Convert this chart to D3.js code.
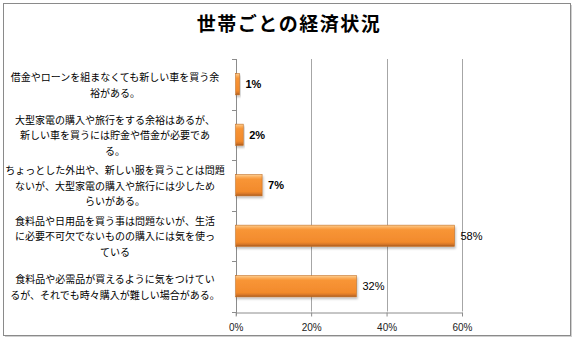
<!DOCTYPE html>
<html>
<head>
<meta charset="utf-8">
<script src="https://cdn.jsdelivr.net/npm/d3@7"></script>
<style>
  html, body { margin: 0; padding: 0; background: #fff; }
  svg { display: block; }
</style>
</head>
<body>
<svg id="chart" width="577" height="341"></svg>
<script>
// Household economic situation, share of responses per category
const title = "世帯ごとの経済状況";
const categories = [
  ["借金やローンを組まなくても新しい車を買う余", "裕がある。"],
  ["大型家電の購入や旅行をする余裕はあるが、", "新しい車を買うには貯金や借金が必要であ", "る。"],
  ["ちょっとした外出や、新しい服を買うことは問題", "ないが、大型家電の購入や旅行には少しため", "らいがある。"],
  ["食料品や日用品を買う事は問題ないが、生活", "に必要不可欠でないものの購入には気を使っ", "ている"],
  ["食料品や必需品が買えるように気をつけてい", "るが、それでも時々購入が難しい場合がある。"]
];
const values = [0.01, 0.02, 0.07, 0.58, 0.32];
const xTicks = [0, 0.2, 0.4, 0.6];

const svg = d3.select("#chart");
const font = "'Noto Sans CJK JP', 'Noto Sans', sans-serif";

// Chart frame with a soft shadow
svg.append("rect").attr("x", 5).attr("y", 5).attr("width", 567).attr("height", 332)
  .attr("fill", "#d0d0d0");
svg.append("rect").attr("x", 3.5).attr("y", 3.5).attr("width", 567).attr("height", 332)
  .attr("fill", "#fff").attr("stroke", "#8a8a8a").attr("stroke-width", 1);

// Title
svg.append("text").attr("x", 289).attr("y", 31)
  .attr("text-anchor", "middle")
  .attr("font-family", font).attr("font-weight", "bold")
  .attr("font-size", 19).attr("letter-spacing", 1.5).attr("fill", "#000")
  .text(title);

const plot = { left: 235.7, right: 462, top: 59, bottom: 311.5 };

const x = d3.scaleLinear().domain([0, 0.6]).range([plot.left, plot.right]);
const y = d3.scaleBand().domain(d3.range(categories.length))
  .range([plot.top, plot.bottom]).paddingInner(0.58).paddingOuter(0.29);

// Bar fill: bevelled orange
const defs = svg.append("defs");
const grad = defs.append("linearGradient").attr("id", "barGrad")
  .attr("x1", 0).attr("y1", 0).attr("x2", 0).attr("y2", 1);
[["0%", "#fccf93"], ["12%", "#fbab58"], ["22%", "#f89536"], ["80%", "#f28a2c"], ["90%", "#d8782a"], ["100%", "#a85a1c"]]
  .forEach(([o, c]) => grad.append("stop").attr("offset", o).attr("stop-color", c));
const shadow = defs.append("filter").attr("id", "barShadow")
  .attr("x", "-10%").attr("y", "-20%").attr("width", "130%").attr("height", "160%");
shadow.append("feDropShadow").attr("dx", 1).attr("dy", 2).attr("stdDeviation", 1)
  .attr("flood-color", "#000").attr("flood-opacity", 0.25);

// Vertical gridlines
svg.append("g").selectAll("line").data(xTicks.slice(1)).join("line")
  .attr("x1", d => Math.round(x(d)) + 0.5).attr("x2", d => Math.round(x(d)) + 0.5)
  .attr("y1", plot.top).attr("y2", plot.bottom)
  .attr("stroke", "#a6a6a6").attr("stroke-width", 1);

// X axis
const xAxis = svg.append("g").attr("transform", `translate(0,${Math.round(plot.bottom) + 0.5})`)
  .call(d3.axisBottom(x).tickValues(xTicks).tickFormat(d3.format(".0%")).tickSize(4).tickSizeOuter(0));
xAxis.select(".domain").attr("stroke", "#8c8c8c");
xAxis.selectAll(".tick line").attr("stroke", "#8c8c8c");
xAxis.selectAll("text").attr("font-family", "'Liberation Sans', sans-serif")
  .attr("font-size", 10).attr("fill", "#222").attr("dy", "1.1em");

// Y axis (tick marks at category boundaries)
const yAxisG = svg.append("g");
yAxisG.append("line")
  .attr("x1", Math.round(plot.left) + 0.5).attr("x2", Math.round(plot.left) + 0.5)
  .attr("y1", plot.top).attr("y2", plot.bottom + 4)
  .attr("stroke", "#8c8c8c");
const step = (plot.bottom - plot.top) / categories.length;
yAxisG.selectAll("line.tk").data(d3.range(categories.length + 1)).join("line").attr("class", "tk")
  .attr("x1", Math.round(plot.left) - 4).attr("x2", Math.round(plot.left))
  .attr("y1", i => Math.round(plot.top + i * step) + 0.5)
  .attr("y2", i => Math.round(plot.top + i * step) + 0.5)
  .attr("stroke", "#8c8c8c");

// Category labels (pre-wrapped lines, centred)
const lineH = 15.5;
svg.append("g").selectAll("text").data(categories).join("text")
  .attr("font-family", font).attr("font-size", 10).attr("fill", "#000")
  .attr("text-anchor", "middle")
  .each(function(lines, i) {
    const cy = y(i) + y.bandwidth() / 2;
    const y0 = cy - (lines.length - 1) * lineH / 2;
    d3.select(this).selectAll("tspan").data(lines).join("tspan")
      .attr("x", 115).attr("y", (d, j) => y0 + j * lineH)
      .attr("dominant-baseline", "central")
      .text(d => d);
  });

// Bars
svg.append("g").selectAll("rect").data(values).join("rect")
  .attr("x", x(0)).attr("y", (d, i) => y(i))
  .attr("width", d => x(d) - x(0)).attr("height", y.bandwidth())
  .attr("fill", "url(#barGrad)")
  .attr("stroke", "#c46f22").attr("stroke-width", 0.6)
  .attr("filter", "url(#barShadow)");

// Value labels
svg.append("g").selectAll("text").data(values).join("text")
  .attr("x", d => x(d) + 6).attr("y", (d, i) => y(i) + y.bandwidth() / 2)
  .attr("dominant-baseline", "central")
  .attr("font-family", "'Liberation Sans', sans-serif")
  .attr("font-size", 11)
  .attr("font-weight", d => d < 0.1 ? "bold" : "normal")
  .attr("fill", "#000")
  .text(d => d3.format(".0%")(d));
</script>
</body>
</html>
